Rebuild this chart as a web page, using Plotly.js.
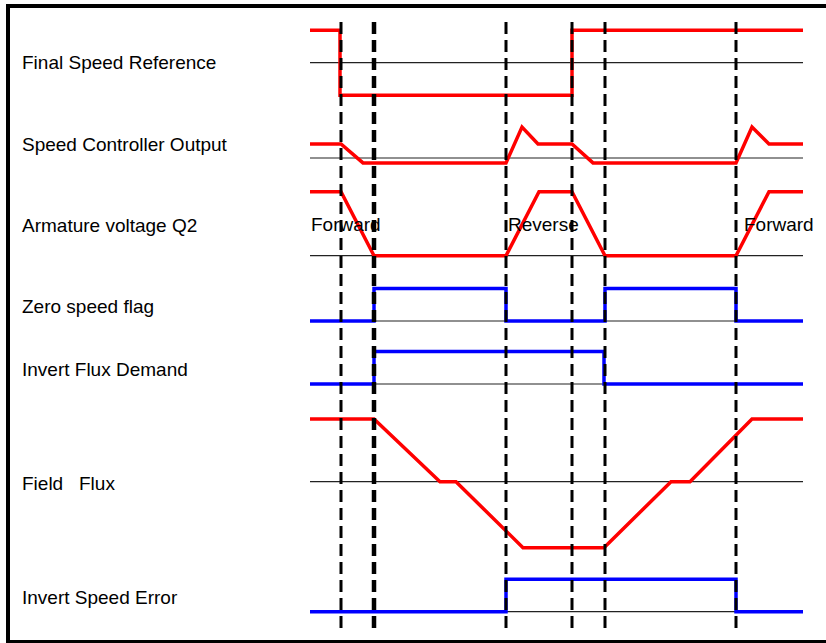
<!DOCTYPE html>
<html>
<head>
<meta charset="utf-8">
<script src="https://cdn.plot.ly/plotly-3.0.1.min.js"></script>
<style>
  html, body { margin: 0; padding: 0; background: #fff; }
  #chart { width: 826px; height: 643px; }
</style>
</head>
<body>
<div id="chart"></div>
<script>
// signal names, top to bottom
const signalNames = [
  "Final Speed Reference",
  "Speed Controller Output",
  "Armature voltage Q2",
  "Zero speed flag",
  "Invert Flux Demand",
  "Field   Flux",
  "Invert Speed Error"
];

// event times (same time base for all rows)
const eventTimes = [31, 64, 196, 262, 295, 426];
const endTime = 493;

// Final Speed Reference
const fsrT = [0, 30, 30, 262, 262, 493];
const fsrV = [1, 1, -1, -1, 1, 1];
// Speed Controller Output
const scoT = [0, 31, 53, 196, 212, 228, 262, 283, 426, 442, 459, 493];
const scoV = [0.43, 0.43, -0.15, -0.15, 0.95, 0.43, 0.43, -0.15, -0.15, 0.95, 0.43, 0.43];
// Armature voltage Q2
const avT = [0, 31, 64, 196, 229, 262, 295, 426, 459, 493];
const avV = [1.97, 1.97, 0, 0, 1.97, 1.97, 0, 0, 1.97, 1.97];
// Zero speed flag
const zsfT = [0, 64, 64, 196, 196, 295, 295, 426, 426, 493];
const zsfV = [0, 0, 1, 1, 0, 0, 1, 1, 0, 0];
// Invert Flux Demand
const ifdT = [0, 64, 64, 294, 294, 493];
const ifdV = [0, 0, 1, 1, 0, 0];
// Field Flux
const ffT = [0, 64, 130, 146, 213, 294, 361, 380, 442, 493];
const ffV = [1.93, 1.93, 0, 0, -2.03, -2.03, 0, 0, 1.93, 1.93];
// Invert Speed Error
const iseT = [0, 196, 196, 426, 426, 493];
const iseV = [0, 0, 1, 1, 0, 0];

// direction labels on the armature voltage row
const dirLabels = ["Forward", "Reverse", "Forward"];
const dirTimes = [-1, 196, 432];

const series = [
  { t: fsrT, v: fsrV, color: "#ff0000" },
  { t: scoT, v: scoV, color: "#ff0000" },
  { t: avT, v: avV, color: "#ff0000" },
  { t: zsfT, v: zsfV, color: "#0000ff" },
  { t: ifdT, v: ifdV, color: "#0000ff" },
  { t: ffT, v: ffV, color: "#ff0000" },
  { t: iseT, v: iseV, color: "#0000ff" }
];

// layout geometry (pixels)
const W = 826, H = 643;
const baselines = [62.7, 158, 255.7, 321, 384, 481.7, 611.7];
const labelY = [62, 145, 225, 306, 369, 483, 597];
const pxPerUnit = 32.5;
const xOffset = 310;
const font = "Liberation Sans, Arial, sans-serif";

const data = [];
const layout = {
  width: W, height: H,
  margin: { l: 0, r: 0, t: 0, b: 0 },
  paper_bgcolor: "#fff", plot_bgcolor: "rgba(0,0,0,0)",
  showlegend: false,
  hovermode: false,
  xaxis: { range: [-xOffset, W - xOffset], visible: false, fixedrange: true },
  shapes: [],
  annotations: []
};

series.forEach((s, i) => {
  const ax = i === 0 ? "y" : "y" + (i + 1);
  const key = i === 0 ? "yaxis" : "yaxis" + (i + 1);
  const lo = Math.min(0, ...s.v) - 0.15;
  const hi = Math.max(0, ...s.v) + 0.15;
  const b = baselines[i];
  const top = b - hi * pxPerUnit, bottom = b - lo * pxPerUnit;
  layout[key] = {
    range: [lo, hi],
    domain: [1 - bottom / H, 1 - top / H],
    visible: false, fixedrange: true,
    anchor: "x"
  };
  // thin zero line
  data.push({
    x: [0, endTime], y: [0, 0], xaxis: "x", yaxis: ax,
    mode: "lines", line: { color: "#222", width: 1.2 },
    cliponaxis: false
  });
  data.push({
    x: s.t, y: s.v, xaxis: "x", yaxis: ax,
    mode: "lines", line: { color: s.color, width: 3.5 },
    cliponaxis: false
  });
  layout.annotations.push({
    xref: "paper", yref: "paper",
    x: 20 / W, y: 1 - labelY[i] / H,
    xanchor: "left", yanchor: "middle",
    text: signalNames[i], showarrow: false,
    font: { family: font, size: 19, color: "#000" }
  });
});

// Forward / Reverse labels
dirLabels.forEach((txt, i) => {
  layout.annotations.push({
    xref: "x", yref: "paper",
    x: dirTimes[i], y: 1 - 224 / H,
    xanchor: "left", yanchor: "middle",
    text: txt, showarrow: false,
    font: { family: font, size: 19, color: "#000" }
  });
});

// dashed event markers
eventTimes.forEach((t, i) => {
  layout.shapes.push({
    type: "line", xref: "x", yref: "paper",
    x0: t, x1: t, y0: 1 - 628 / H, y1: 1 - 20 / H,
    line: { color: "#000", width: i === 1 ? 4.5 : 3, dash: "12px,6px" }
  });
});

// outer frame
layout.shapes.push({
  type: "rect", xref: "paper", yref: "paper",
  x0: 8 / W, x1: 1.02, y0: 1 - 642 / H, y1: 1 - 6 / H,
  line: { color: "#000", width: 4 }
});

Plotly.newPlot("chart", data, layout, { displayModeBar: false, staticPlot: true });
</script>
</body>
</html>
